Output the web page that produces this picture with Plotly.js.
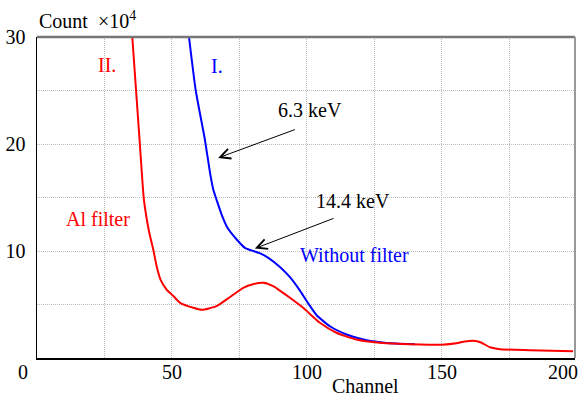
<!DOCTYPE html>
<html>
<head>
<meta charset="utf-8">
<script src="https://cdn.plot.ly/plotly-3.0.1.min.js"></script>
<style>
html,body{margin:0;padding:0;background:#fff;}
#chart{width:584px;height:396px;}
#chart svg text { font-family: "Liberation Serif", "Times New Roman", Tinos, "DejaVu Serif", serif !important; }
</style>
</head>
<body>
<div id="chart"></div>
<script>
// Channel numbers and counts (x10^4)
const withoutFilterChannel = [56.3, 58.8, 62.2, 64.1, 65.3, 66.5, 68.4, 70.5, 73.9, 77.0, 80.1, 82.5, 85.7, 90, 93.7, 97.4, 100.5, 103.6, 108.5, 114.7, 120.9, 127, 133, 140];
const withoutFilterCount   = [30, 25, 20.4, 17.3, 15.75, 14.8, 13.4, 12.2, 11.1, 10.3, 10.0, 9.8, 9.36, 8.5, 7.55, 6.3, 5.1, 4.0, 2.97, 2.2, 1.73, 1.48, 1.36, 1.28];

const alFilterChannel = [35.3, 36.7, 38.1, 39.6, 41.6, 43.1, 44.3, 45.8, 48.0, 50.5, 53, 57.9, 61, 66.5, 71.5, 76.4, 80, 83.8, 87.5, 90.5, 93.7, 98.6, 104.8, 110.9, 118.3, 127, 135, 142, 150, 155.4, 158.5, 161.6, 164.5, 167.8, 171.5, 182.6, 198.6];
const alFilterCount   = [30, 25, 20, 14.8, 11.7, 10.1, 8.6, 7.3, 6.4, 5.8, 5.16, 4.69, 4.5, 4.84, 5.7, 6.56, 6.9, 7.03, 6.71, 6.2, 5.63, 4.69, 3.29, 2.36, 1.73, 1.42, 1.32, 1.26, 1.25, 1.38, 1.55, 1.62, 1.45, 1.0, 0.82, 0.73, 0.62];

const xTickVals = [50, 100, 150];
const xTickText = ["50", "100", "150"];
const yTickVals = [10, 20, 30];
const yTickText = ["10", "20", "30"];

const FONT = "Liberation Serif";
const GRID = "#bdbdbd";

const traces = [
  {x: withoutFilterChannel, y: withoutFilterCount, mode: "lines", line: {color: "#0000ff", width: 2, shape: "spline", smoothing: 0.5}, hoverinfo: "skip"},
  {x: alFilterChannel, y: alFilterCount, mode: "lines", line: {color: "#ff0000", width: 2, shape: "spline", smoothing: 0.5}, hoverinfo: "skip"}
];

const layout = {
  width: 584, height: 396,
  margin: {l: 37, r: 9, t: 37, b: 38, pad: 0},
  paper_bgcolor: "#fff", plot_bgcolor: "#fff",
  showlegend: false,
  font: {family: FONT, size: 20, color: "#000"},
  xaxis: {
    range: [0, 199.3], tickmode: "array", tickvals: xTickVals, ticktext: xTickText,
    showgrid: true, gridcolor: GRID, griddash: "1px,1px", gridwidth: 1,
    minor: {dtick: 25, tick0: 0, showgrid: true, gridcolor: GRID, griddash: "1px,1px", gridwidth: 1},
    zeroline: false, showline: true, linecolor: "#000", linewidth: 1.5,
    ticks: "", ticklabelstandoff: -5, fixedrange: true
  },
  yaxis: {
    range: [0, 30], tickmode: "array", tickvals: yTickVals, ticktext: yTickText,
    showgrid: true, gridcolor: GRID, griddash: "1px,1px", gridwidth: 1,
    minor: {dtick: 5, tick0: 0, showgrid: true, gridcolor: GRID, griddash: "1px,1px", gridwidth: 1},
    zeroline: false, showline: true, linecolor: "#000", linewidth: 1.5,
    ticks: "", ticklabelstandoff: 6, fixedrange: true
  },
  shapes: [
    {type: "line", xref: "paper", yref: "paper", x0: 0, x1: 1, y0: 1, y1: 1, line: {color: "#777", width: 2.5}},
    {type: "line", xref: "paper", yref: "paper", x0: 1, x1: 1, y0: 0, y1: 1, line: {color: "#999", width: 2}}
  ],
  annotations: [
    {xref: "paper", yref: "paper", x: 0, y: 1, xanchor: "left", yanchor: "middle", yshift: 17, showarrow: false,
     text: "Count  ×10<sup>4</sup>"},
    {xref: "paper", yref: "paper", x: 0.61, y: 0, xanchor: "center", yanchor: "middle", yshift: -28, showarrow: false,
     text: "Channel"},
    {xref: "paper", yref: "paper", x: -0.026, y: 0, xanchor: "center", yanchor: "middle", yshift: -14, showarrow: false,
     text: "0"},
    {xref: "paper", yref: "paper", x: 0.978, y: 0, xanchor: "center", yanchor: "middle", yshift: -14, showarrow: false,
     text: "200"},
    {x: 25.9, y: 27.4, showarrow: false, text: "II.", font: {color: "#ff0000"}},
    {x: 66.6, y: 27.3, showarrow: false, text: "I.", font: {color: "#0000ff"}},
    {x: 22.6, y: 13.0, showarrow: false, text: "Al filter", font: {color: "#ff0000"}},
    {x: 117.8, y: 9.6, showarrow: false, text: "Without filter", font: {color: "#0000ff"}},
    {x: 101.1, y: 23.2, showarrow: false, text: "6.3 keV"},
    {x: 117, y: 14.65, showarrow: false, text: "14.4 keV"},
    {x: 67.1, y: 18.7, ax: 96.1, ay: 21.4, axref: "x", ayref: "y", showarrow: true, text: "",
     arrowhead: 5, arrowsize: 2, arrowwidth: 1, arrowcolor: "#000"},
    {x: 80.7, y: 10.23, ax: 110.4, ay: 13.1, axref: "x", ayref: "y", showarrow: true, text: "",
     arrowhead: 5, arrowsize: 2, arrowwidth: 1, arrowcolor: "#000"}
  ]
};

Plotly.newPlot("chart", traces, layout, {staticPlot: true});
</script>
</body>
</html>
